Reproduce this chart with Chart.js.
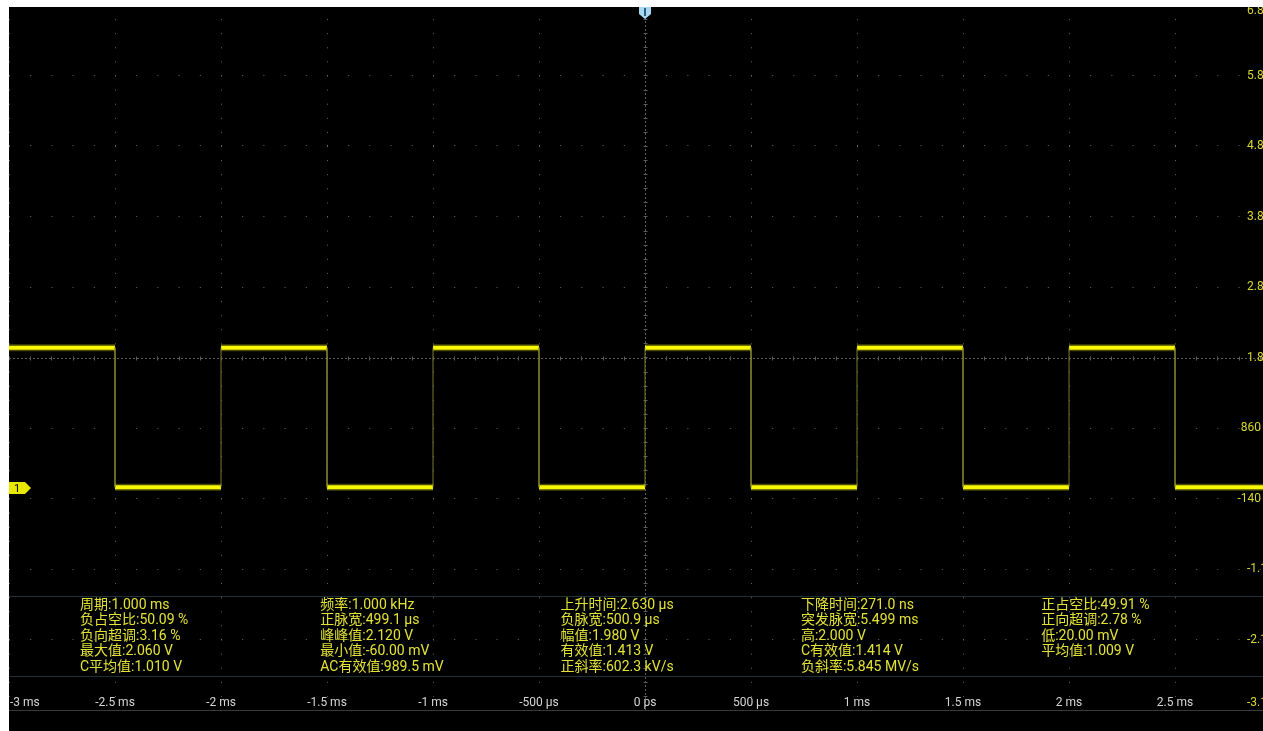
<!DOCTYPE html>
<html>
<head>
<meta charset="utf-8">
<script src="https://cdn.jsdelivr.net/npm/chart.js@4.4.1/dist/chart.umd.min.js"></script>
<style>
html,body{margin:0;padding:0;background:#000;overflow:hidden;width:1263px;height:731px;}
#wrap{position:absolute;left:0;top:0;width:1263px;height:731px;}
#topStrip{position:absolute;left:0;top:0;width:1263px;height:7px;background:#fff;}
#leftStrip{position:absolute;left:0;top:0;width:9px;height:731px;background:#fff;}
#meas{position:absolute;left:9px;top:596px;width:1254px;height:79px;border-top:1px solid #1d3333;border-bottom:1px solid #1d3333;}
.col{position:absolute;top:0;font:14px Roboto,"Noto Sans CJK SC",sans-serif;color:#e2e236;line-height:15.4px;white-space:nowrap;}
</style>
</head>
<body>
<div id="wrap"><canvas id="scope" width="1263" height="731"></canvas></div>
<div id="meas"></div>
<div id="topStrip"></div>
<div id="leftStrip"></div>
<script>
(function(){
'use strict';

// --- datos ---
const xTickValues = [-3, -2.5, -2, -1.5, -1, -0.5, 0, 0.5, 1, 1.5, 2, 2.5];          // ms
const xTickLabels = ['-3 ms','-2.5 ms','-2 ms','-1.5 ms','-1 ms','-500 μs','0 ps','500 μs','1 ms','1.5 ms','2 ms','2.5 ms'];
const yTickValues = [6.86, 5.86, 4.86, 3.86, 2.86, 1.86, 0.86, -0.14, -1.14, -2.14, -3.14]; // V
const yTickLabels = ['6.8','5.8','4.8','3.8','2.8','1.8','860','-140','-1.1','-2.1','-3.1'];

const edgeTimes  = [-2.5, -2.0, -1.5, -1.0, -0.5, 0.0, 0.5, 1.0, 1.5, 2.0, 2.5]; // ms, flancos
const startLevel = 'high';
const highLevel  = 2.0;    // V
const lowLevel   = 0.02;   // V
const xMin = -3.0, xMax = 2.915;
const yMin = -3.14, yMax = 6.86;

const measCol1 = ['周期:1.000 ms','负占空比:50.09 %','负向超调:3.16 %','最大值:2.060 V','C平均值:1.010 V'];
const measCol2 = ['频率:1.000 kHz','正脉宽:499.1 μs','峰峰值:2.120 V','最小值:-60.00 mV','AC有效值:989.5 mV'];
const measCol3 = ['上升时间:2.630 μs','负脉宽:500.9 μs','幅值:1.980 V','有效值:1.413 V','正斜率:602.3 kV/s'];
const measCol4 = ['下降时间:271.0 ns','突发脉宽:5.499 ms','高:2.000 V','C有效值:1.414 V','负斜率:5.845 MV/s'];
const measCol5 = ['正占空比:49.91 %','正向超调:2.78 %','低:20.00 mV','平均值:1.009 V'];

// tramos horizontales y flancos verticales
const levelPts = [];
const edgePts = [];
let lvl = startLevel === 'high' ? highLevel : lowLevel;
let t0 = xMin;
edgeTimes.forEach(t => {
  levelPts.push({x: t0, y: lvl}, {x: t, y: lvl}, {x: t, y: null});
  const next = lvl === highLevel ? lowLevel : highLevel;
  edgePts.push({x: t, y: lvl}, {x: t, y: next}, {x: t, y: null});
  lvl = next; t0 = t;
});
levelPts.push({x: t0, y: lvl}, {x: xMax, y: lvl});

// panel de mediciones (texto HTML)
const meas = document.getElementById('meas');
[measCol1, measCol2, measCol3, measCol4, measCol5].forEach((col, i) => {
  const d = document.createElement('div');
  d.className = 'col';
  d.style.left = (71 + i * 240.3) + 'px';
  d.innerHTML = col.map(s => '<div>' + s + '</div>').join('');
  meas.appendChild(d);
});

const scopeDeco = {
  id: 'scopeDeco',
  beforeDatasetsDraw(chart){
    const {ctx, chartArea: a, scales: {x, y}} = chart;
    const cx = Math.round(x.getPixelForValue(0)) + 0.5;
    const cy = Math.round(y.getPixelForValue(1.86)) + 0.5;
    const subX = (x.getPixelForValue(0.5) - x.getPixelForValue(0)) / 5;
    const subY = (y.getPixelForValue(0) - y.getPixelForValue(1)) / 5;
    ctx.save();
    ctx.strokeStyle = '#5c5c5c';
    ctx.lineWidth = 1;
    ctx.setLineDash([2, 2]);
    ctx.beginPath();
    ctx.moveTo(a.left, cy); ctx.lineTo(a.right, cy);
    ctx.moveTo(cx, a.top); ctx.lineTo(cx, a.bottom);
    ctx.stroke();
    ctx.setLineDash([]);
    ctx.beginPath();
    for (let px = a.left; px <= a.right; px += subX) {
      const p = Math.round(px) + 0.5;
      ctx.moveTo(p, cy - 2); ctx.lineTo(p, cy + 2);
    }
    for (let py = a.top; py <= a.bottom; py += subY) {
      const p = Math.round(py) + 0.5;
      ctx.moveTo(cx - 2, p); ctx.lineTo(cx + 2, p);
    }
    ctx.stroke();
    // línea inferior
    ctx.strokeStyle = '#3a3a3a';
    ctx.beginPath();
    ctx.moveTo(a.left, Math.round(a.bottom) + 0.5); ctx.lineTo(a.right, Math.round(a.bottom) + 0.5);
    ctx.stroke();
    ctx.restore();
  },
  afterDraw(chart){
    const {ctx, chartArea: a, scales: {x, y}} = chart;
    ctx.save();
    // etiquetas eje X (dentro del área)
    ctx.font = '12px Roboto, "Noto Sans", sans-serif';
    ctx.fillStyle = '#d6d6d6';
    ctx.textBaseline = 'middle';
    xTickValues.forEach((v, i) => {
      const w = ctx.measureText(xTickLabels[i]).width;
      let px = x.getPixelForValue(v) - w / 2;
      if (px < a.left + 1) px = a.left + 1;
      ctx.textAlign = 'left';
      ctx.fillText(xTickLabels[i], px, 703);
    });
    // etiquetas eje Y (derecha)
    ctx.fillStyle = '#d8d82c';
    yTickValues.forEach((v, i) => {
      let py = y.getPixelForValue(v);
      py = Math.min(Math.max(py, 11), 703);
      const lab = yTickLabels[i];
      if (lab.indexOf('.') >= 0) { ctx.textAlign = 'left'; ctx.fillText(lab, 1247, py); }
      else { ctx.textAlign = 'right'; ctx.fillText(lab, 1261, py); }
    });
    // marcador de disparo
    const tx = Math.round(x.getPixelForValue(0));
    ctx.fillStyle = '#a8d8f2';
    ctx.beginPath();
    ctx.moveTo(tx - 6, 7); ctx.lineTo(tx + 6, 7); ctx.lineTo(tx + 6, 14);
    ctx.lineTo(tx, 19); ctx.lineTo(tx - 6, 14); ctx.closePath();
    ctx.fill();
    ctx.strokeStyle = '#2e5f82';
    ctx.lineWidth = 2;
    ctx.beginPath(); ctx.moveTo(tx, 8); ctx.lineTo(tx, 16); ctx.stroke();
    // marcador de canal 1 (nivel 0 V)
    const gy = Math.round(y.getPixelForValue(0)) - 1;
    ctx.fillStyle = '#e8e800';
    ctx.beginPath();
    ctx.moveTo(9, gy - 6); ctx.lineTo(25, gy - 6); ctx.lineTo(31, gy);
    ctx.lineTo(25, gy + 6); ctx.lineTo(9, gy + 6); ctx.closePath();
    ctx.fill();
    ctx.fillStyle = '#000';
    ctx.font = '11px Roboto, sans-serif';
    ctx.textAlign = 'center';
    ctx.fillText('1', 17, gy + 1);
    ctx.restore();
  }
};

const canvas = document.getElementById('scope');
const existing = Chart.getChart(canvas);
if (existing) existing.destroy();

new Chart(canvas.getContext('2d'), {
  type: 'line',
  data: {
    datasets: [
      { label: 'glow',  data: levelPts, borderColor: 'rgba(255,255,0,0.28)', borderWidth: 7, pointRadius: 0, spanGaps: false },
      { label: 'edges', data: edgePts,  borderColor: '#78782a', borderWidth: 1, pointRadius: 0, spanGaps: false },
      { label: 'CH1',   data: levelPts, borderColor: '#f4f400', borderWidth: 4, pointRadius: 0, spanGaps: false }
    ]
  },
  options: {
    responsive: false,
    animation: false,
    layout: { padding: { left: 9, top: 5, right: 0, bottom: 21 } },
    elements: { line: { tension: 0, borderCapStyle: 'butt' } },
    plugins: { legend: { display: false }, tooltip: { enabled: false } },
    scales: {
      x: {
        type: 'linear', min: xMin, max: xMax,
        afterBuildTicks: s => { s.ticks = xTickValues.map(v => ({ value: v })); },
        ticks: { display: false },
        grid: { drawTicks: false, color: c => (c.tick && c.tick.value === 0) ? 'rgba(0,0,0,0)' : '#666' },
        border: { display: false, dash: [1, 13.1] }
      },
      y: {
        type: 'linear', min: yMin, max: yMax,
        afterBuildTicks: s => { s.ticks = yTickValues.map(v => ({ value: v })); },
        ticks: { display: false },
        grid: { drawTicks: false, color: c => (c.tick && c.tick.value === 1.86) ? 'rgba(0,0,0,0)' : '#666' },
        border: { display: false, dash: [1, 20.2] }
      }
    }
  },
  plugins: [scopeDeco]
});

})();
</script>
</body>
</html>
